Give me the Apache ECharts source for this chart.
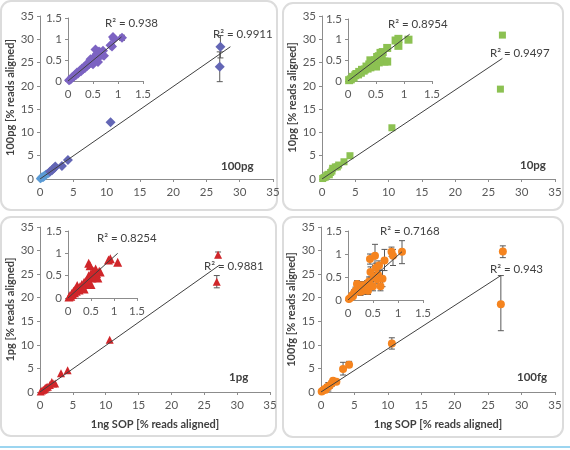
<!DOCTYPE html>
<html><head><meta charset="utf-8">
<script src="https://cdn.jsdelivr.net/npm/echarts@6/dist/echarts.min.js"></script>
<style>html,body{margin:0;padding:0;background:#fff}#c{width:570px;height:450px}</style>
</head><body><div id="c"></div>
<script>
// ---------------- DATA ----------------
const mainTicks = [0,5,10,15,20,25,30,35];
const insetTicks = [0,0.5,1,1.5];
const panelNames = ['100pg','10pg','1pg','100fg'];
const yTitles = ['100pg [% reads aligned]','10pg [% reads aligned]','1pg [% reads aligned]','100fg [% reads aligned]'];
const xTitle = '1ng SOP [% reads aligned]';
const r2Main = ['R\u00b2 = 0.9911','R\u00b2 = 0.9497','R\u00b2 = 0.9881','R\u00b2 = 0.943'];
const r2Inset = ['R\u00b2 = 0.938','R\u00b2 = 0.8954','R\u00b2 = 0.8254','R\u00b2 = 0.7168'];

// Panel 1 (100pg)
const p1MainLow = [[0.05,0.05],[0.1,0.15],[0.2,0.2],[0.3,0.3],[0.4,0.45],[0.5,0.5],[0.6,0.7],[0.7,0.6],[0.8,0.9],[0.9,1.0],[1.0,1.0],[1.1,1.2],[0.3,0.5],[0.5,0.3],[1.3,1.2]];
const p1Main = [[1.5,1.6],[1.8,1.9],[2.0,2.2],[2.3,2.7],[2.2,2.4],[3.3,2.8],[4.2,4.1],[10.6,12.2],[27.1,28.4],[27.0,24.1]];
const p1MainErr = [[27.1,28.4,26.0,30.8],[27.0,24.1,20.9,27.3]];
const p1MainTrend = [[0,0],[28.6,28.4]];
const p1Inset = [[0.02,0.02],[0.04,0.03],[0.06,0.05],[0.08,0.09],[0.1,0.1],[0.12,0.11],[0.14,0.15],[0.16,0.14],[0.18,0.2],[0.2,0.18],[0.22,0.22],[0.24,0.25],[0.26,0.23],[0.28,0.3],[0.3,0.28],[0.32,0.33],[0.34,0.31],[0.36,0.38],[0.38,0.36],[0.4,0.42],[0.42,0.4],[0.44,0.45],[0.46,0.43],[0.48,0.5],[0.5,0.47],[0.52,0.55],[0.55,0.5],[0.55,0.6],[0.58,0.65],[0.6,0.55],[0.62,0.7],[0.55,0.75],[0.65,0.68],[0.68,0.62],[0.7,0.72],[0.72,0.6],[0.6,0.45],[0.5,0.4],[0.45,0.52],[0.85,0.85],[0.88,0.82],[0.9,1.05],[0.92,1.0],[1.08,1.03]];
const p1InsetErr = [[1.08,1.03,0.97,1.09],[0.86,0.84,0.8,0.88]];
const p1InsetTrend = [[0,0],[1.07,1.05]];

// Panel 2 (10pg)
const p2Main = [[0.1,0.1],[0.3,0.3],[0.5,0.4],[0.7,0.8],[0.9,1.0],[1.1,0.9],[1.3,1.4],[1.5,1.7],[1.6,2.3],[2.0,2.6],[2.3,2.6],[2.5,3.0],[3.3,3.7],[4.2,5.0],[10.5,11.0],[27.1,30.9],[26.8,19.3]];
const p2MainTrend = [[0,0],[27.1,25.9]];
const p2Inset = [[0.02,0.02],[0.05,0.04],[0.08,0.1],[0.1,0.08],[0.13,0.14],[0.15,0.17],[0.18,0.16],[0.2,0.22],[0.23,0.2],[0.25,0.27],[0.28,0.25],[0.3,0.28],[0.33,0.35],[0.35,0.3],[0.38,0.4],[0.4,0.33],[0.42,0.45],[0.45,0.38],[0.48,0.5],[0.5,0.42],[0.52,0.58],[0.55,0.6],[0.55,0.45],[0.58,0.68],[0.6,0.62],[0.62,0.7],[0.6,0.5],[0.65,0.47],[0.7,0.47],[0.7,0.8],[0.5,0.35],[0.4,0.5],[0.85,0.98],[0.9,1.02],[0.9,0.85],[1.08,1.0]];
const p2InsetErr = [[1.08,1.0,0.93,1.07]];
const p2InsetTrend = [[0,0],[1.1,1.13]];

// Panel 3 (1pg)
const p3Main = [[0.1,0.1],[0.3,0.3],[0.5,0.5],[0.7,0.6],[0.8,0.9],[1.0,1.0],[1.2,1.1],[1.5,1.5],[1.8,2.1],[2.0,1.8],[2.3,1.8],[3.2,4.0],[4.2,4.6],[10.6,11.1],[27.1,29.1],[26.9,23.4]];
const p3MainErr = [[27.1,29.1,28.5,29.7],[26.9,23.4,22.1,24.7]];
const p3MainTrend = [[0,0],[27.3,26.9]];
const p3Inset = [[0.02,0.02],[0.04,0.05],[0.06,0.04],[0.08,0.1],[0.1,0.08],[0.12,0.15],[0.14,0.12],[0.16,0.2],[0.18,0.15],[0.2,0.28],[0.22,0.2],[0.24,0.18],[0.26,0.25],[0.28,0.22],[0.3,0.3],[0.32,0.25],[0.35,0.35],[0.38,0.3],[0.4,0.4],[0.42,0.35],[0.45,0.5],[0.45,0.78],[0.48,0.72],[0.5,0.55],[0.52,0.45],[0.55,0.6],[0.58,0.5],[0.6,0.65],[0.62,0.55],[0.65,0.45],[0.68,0.6],[0.7,0.58],[0.5,0.3],[0.35,0.2],[0.88,0.85],[0.92,0.88],[1.08,0.8]];
const p3InsetTrend = [[0,0],[1.08,1.0]];

// Panel 4 (100fg) : [x, y, low, high]
const p4Main = [[0.1,0.1,0,0.3],[0.3,0.3,0.1,0.5],[0.5,0.6,0.2,1.0],[0.7,0.5,0.2,0.9],[0.9,1.0,0.4,1.6],[1.1,1.1,0.2,2.0],[1.3,1.4,0.8,2.0],[1.6,1.8,1.2,2.4],[1.8,2.4,2.0,2.8],[2.3,2.2,1.9,2.5],[3.3,4.9,3.6,6.3],[4.2,5.8,5.2,6.5],[10.6,10.3,9.1,11.5],[27.2,29.8,28.5,31.0],[26.9,18.6,13.0,24.7]];
const p4MainTrend = [[0,0],[26.9,24.7]];
const p4Inset = [[0.02,0.02,0,0.05],[0.05,0.05,0.02,0.08],[0.08,0.1,0.05,0.15],[0.1,0.08,0.04,0.12],[0.12,0.15,0.08,0.22],[0.15,0.2,0.12,0.28],[0.18,0.35,0.28,0.42],[0.2,0.25,0.15,0.35],[0.22,0.3,0.22,0.4],[0.25,0.18,0.1,0.25],[0.28,0.32,0.25,0.4],[0.3,0.2,0.12,0.28],[0.32,0.28,0.2,0.38],[0.35,0.25,0.18,0.32],[0.38,0.35,0.28,0.42],[0.4,0.2,0.12,0.28],[0.42,0.4,0.32,0.5],[0.45,0.61,0.5,0.72],[0.44,0.89,0.78,1.0],[0.5,0.3,0.2,0.4],[0.52,0.5,0.4,0.6],[0.54,0.96,0.75,1.21],[0.56,0.7,0.6,0.8],[0.58,0.45,0.35,0.55],[0.6,0.55,0.45,0.65],[0.62,0.75,0.65,0.85],[0.65,0.3,0.2,0.4],[0.69,0.46,0.29,0.64],[0.73,0.86,0.64,1.1],[0.87,1.05,0.95,1.15],[0.9,0.96,0.75,1.1],[1.08,1.05,0.79,1.29]];
const p4InsetTrend = [[0,0],[1.08,1.05]];

// ---------------- LAYOUT / STYLE ----------------
const FONT = 'Lato, "Open Sans", sans-serif';
const grids = [
  {left:40, top:16, width:233, height:163},
  {left:68, top:18, width:75, height:63},
  {left:322, top:16, width:233, height:163},
  {left:348, top:19, width:84, height:62},
  {left:40, top:227, width:230, height:165},
  {left:68, top:231, width:69, height:67},
  {left:321, top:227, width:234, height:165},
  {left:348, top:231, width:75, height:69}
];
const axisCommon = {
  axisLine:{show:true, lineStyle:{color:'#8c8c8c', width:1}},
  axisTick:{show:true, length:3, lineStyle:{color:'#8c8c8c'}},
  splitLine:{show:false},
  axisLabel:{color:'#595959', fontSize:11.5, fontFamily:FONT}
};
const titleStyle = {color:'#404040', fontSize:11, fontWeight:'bold', fontFamily:FONT};
const xAxes = [], yAxes = [];
grids.forEach((g,i)=>{
  const inset = i%2===1;
  const bottomRow = i>=4;
  xAxes.push(Object.assign({}, axisCommon, {
    type:'value', gridIndex:i, min:0, max: inset?1.5:35, interval: inset?0.5:5,
    axisLabel:Object.assign({}, axisCommon.axisLabel, {margin:7}),
    name: (!inset && bottomRow) ? xTitle : '', nameLocation:'middle', nameGap:27,
    nameTextStyle:titleStyle
  }));
  yAxes.push(Object.assign({}, axisCommon, {
    type:'value', gridIndex:i, min:0, max: inset?1.5:35, interval: inset?0.5:5,
    axisLabel:Object.assign({}, axisCommon.axisLabel, {margin:6}),
    name: inset ? '' : yTitles[i/2], nameLocation:'middle', nameGap:24, nameRotate:90,
    nameTextStyle:titleStyle
  }));
});

function scatter(gi, data, symbol, color, size){
  return {type:'scatter', xAxisIndex:gi, yAxisIndex:gi, data:data.map(d=>[d[0],d[1]]), symbol:symbol, symbolSize:size,
    itemStyle:{color:color, opacity:1}, z:3, silent:true};
}
function trend(gi, data){
  return {type:'line', xAxisIndex:gi, yAxisIndex:gi, data:data, symbol:'none',
    lineStyle:{color:'#404040', width:1}, z:4, silent:true};
}
function errbars(gi, data){
  return {type:'custom', xAxisIndex:gi, yAxisIndex:gi, data:data, z:2, silent:true,
    renderItem:function(params, api){
      const x=api.value(0), lo=api.value(2), hi=api.value(3);
      const a=api.coord([x,lo]), b=api.coord([x,hi]);
      const st={stroke:'#595959', lineWidth:1};
      return {type:'group', children:[
        {type:'line', shape:{x1:a[0],y1:a[1],x2:b[0],y2:b[1]}, style:st},
        {type:'line', shape:{x1:a[0]-3,y1:a[1],x2:a[0]+3,y2:a[1]}, style:st},
        {type:'line', shape:{x1:b[0]-3,y1:b[1],x2:b[0]+3,y2:b[1]}, style:st}
      ]};
    }};
}

const C1='#6366b5', C1low='#5b9bd5', C1in='#7c63c2';
const C2='#8cc152';
const C3='#d0262a';
const C4='#f5841f';

const series = [
  errbars(0,p1MainErr), scatter(0,p1MainLow,'diamond',C1low,9), scatter(0,p1Main,'diamond',C1,10), trend(0,p1MainTrend),
  errbars(1,p1InsetErr), scatter(1,p1Inset,'diamond',C1in,10), trend(1,p1InsetTrend),
  scatter(2,p2Main,'rect',C2,7), trend(2,p2MainTrend),
  errbars(3,p2InsetErr), scatter(3,p2Inset,'rect',C2,8), trend(3,p2InsetTrend),
  errbars(4,p3MainErr), scatter(4,p3Main,'triangle',C3,8), trend(4,p3MainTrend),
  scatter(5,p3Inset,'triangle',C3,9), trend(5,p3InsetTrend),
  errbars(6,p4Main), scatter(6,p4Main,'circle',C4,8), trend(6,p4MainTrend),
  errbars(7,p4Inset), scatter(7,p4Inset,'circle',C4,8), trend(7,p4InsetTrend)
];

function txt(x,y,s,bold){
  return {type:'text', left:x, top:y, z:10, silent:true,
    style:{text:s, fill:'#404040', font:(bold?'bold ':'')+'11.5px '+FONT}};
}
const graphic = [
  {type:'rect', shape:{x:1,y:1,width:276,height:209,r:10}, style:{fill:'none', stroke:'#dcdcdc', lineWidth:2}, z:-1, silent:true},
  {type:'rect', shape:{x:283,y:3,width:280,height:207,r:10}, style:{fill:'none', stroke:'#dcdcdc', lineWidth:2}, z:-1, silent:true},
  {type:'rect', shape:{x:1,y:217,width:275,height:219,r:10}, style:{fill:'none', stroke:'#dcdcdc', lineWidth:2}, z:-1, silent:true},
  {type:'rect', shape:{x:283,y:217,width:280,height:220,r:10}, style:{fill:'none', stroke:'#dcdcdc', lineWidth:2}, z:-1, silent:true},
  {type:'line', shape:{x1:0,y1:447,x2:570,y2:447}, style:{stroke:'#9bd5f0', lineWidth:2}, silent:true},
  txt(221,160,panelNames[0],true), txt(520,159,panelNames[1],true),
  txt(229,371,panelNames[2],true), txt(517,371,panelNames[3],true),
  txt(213,28,r2Main[0]), txt(490,47,r2Main[1]), txt(204,260,r2Main[2]), txt(490,263,r2Main[3]),
  txt(105,17,r2Inset[0]), txt(388,18,r2Inset[1]), txt(97,232,r2Inset[2]), txt(380,225,r2Inset[3])
];

const chart = echarts.init(document.getElementById('c'), null, {renderer:'canvas'});
chart.setOption({
  animation:false, backgroundColor:'#fff',
  grid:grids, xAxis:xAxes, yAxis:yAxes, series:series, graphic:graphic
});
</script></body></html>
